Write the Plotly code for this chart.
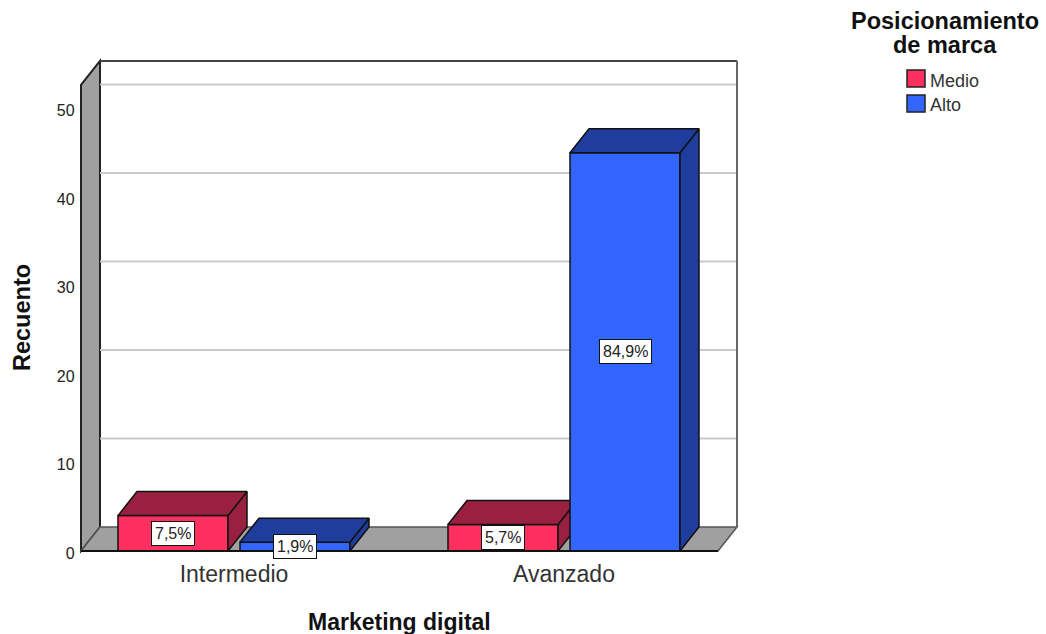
import plotly.graph_objects as go

categories = ["Intermedio", "Avanzado"]
medio_counts = [4, 3]
alto_counts = [1, 45]
y_ticks = [0, 10, 20, 30, 40, 50]
series_names = ["Medio", "Alto"]

FONT = "Liberation Sans"
MEDIO_FRONT, MEDIO_DARK = "#FF3060", "#9A2040"
ALTO_FRONT, ALTO_DARK = "#3366FF", "#1F3D9C"
WALL = "#A0A0A0"
EDGE = "#111111"

# Pseudo-3D geometry, in axis units
BAR_W = 1 / 3
GAP = 0.0364
DX = 0.0576
DY = 2.71
X_LEFT, X_RIGHT = -0.4636, 1.4667
Y_TOP = 52.66
PX_PER_UNIT_X = 330
PX_PER_UNIT_Y = 8.85

total = sum(medio_counts) + sum(alto_counts)


def pct(v):
    return f"{100 * v / total:.1f}%".replace(".", ",")


def poly(xs, ys, fill, line=EDGE, width=1.5, xa="x", ya="y"):
    return go.Scatter(
        x=xs + xs[:1], y=ys + ys[:1], mode="lines", fill="toself", fillcolor=fill,
        line=dict(color=line, width=width), hoverinfo="skip", showlegend=False,
        xaxis=xa, yaxis=ya,
    )


def prism_faces(left, value, top_col, xa, ya):
    """Top and side faces of a bar whose front is drawn by go.Bar."""
    right = left + BAR_W
    top = poly([left, right, right + DX, left + DX],
               [value, value, value + DY, value + DY], top_col, xa=xa, ya=ya)
    side = poly([right, right + DX, right + DX, right],
                [0, DY, value + DY, value], top_col, xa=xa, ya=ya)
    return [side, top]


def paper_text(px, py, text, size, color="#111111", **kw):
    """Text placed by pixel position on the page."""
    opts = dict(xanchor="center", yanchor="middle", showarrow=False)
    opts.update(kw)
    return dict(x=px / 1046, y=1 - py / 634, xref="paper", yref="paper", text=text,
                font=dict(family=FONT, size=size, color=color), **opts)


fig = go.Figure()

# Each series gets its own overlaid axis pair so Alto stacks above Medio's depth faces
for name, counts, offset, front, dark, xa, ya in [
    (series_names[0], medio_counts, -BAR_W - GAP / 2, MEDIO_FRONT, MEDIO_DARK, "x", "y"),
    (series_names[1], alto_counts, GAP / 2, ALTO_FRONT, ALTO_DARK, "x2", "y2"),
]:
    fig.add_trace(go.Bar(
        x=list(range(len(categories))), y=counts, name=name, width=BAR_W, offset=offset,
        marker=dict(color=front, line=dict(color=EDGE, width=1.5)),
        showlegend=False, xaxis=xa, yaxis=ya,
    ))
    for i, v in enumerate(counts):
        for face in prism_faces(i + offset, v, dark, xa, ya):
            fig.add_trace(face)

shapes = []
# Side wall and floor of the box
wall_line = dict(color="#222222", width=2)
shapes.append(dict(type="path", layer="below", xref="x", yref="y", fillcolor=WALL, line=wall_line,
                   path=f"M {X_LEFT} 0 L {X_LEFT + DX} {DY} L {X_LEFT + DX} {Y_TOP + DY} "
                        f"L {X_LEFT} {Y_TOP} Z"))
shapes.append(dict(type="path", layer="below", xref="x", yref="y", fillcolor=WALL,
                   line=dict(color="#555555", width=1.5),
                   path=f"M {X_LEFT} 0 L {X_LEFT + DX} {DY} L {X_RIGHT + DX} {DY} "
                        f"L {X_RIGHT} 0 Z"))
# Gridlines on the back wall
for t in y_ticks[1:]:
    shapes.append(dict(type="line", layer="below", xref="x", yref="y",
                       x0=X_LEFT + DX, x1=X_RIGHT + DX, y0=t + DY, y1=t + DY,
                       line=dict(color="#C9C9C9", width=2)))
# Back wall outline
shapes.append(dict(type="line", layer="below", xref="x", yref="y",
                   x0=X_LEFT + DX, x1=X_RIGHT + DX, y0=Y_TOP + DY, y1=Y_TOP + DY,
                   line=dict(color="#444444", width=2)))
shapes.append(dict(type="line", layer="below", xref="x", yref="y",
                   x0=X_RIGHT + DX, x1=X_RIGHT + DX, y0=DY, y1=Y_TOP + DY,
                   line=dict(color="#666666", width=2)))
# Front floor edge
shapes.append(dict(type="line", xref="x", yref="y", x0=X_LEFT, x1=X_RIGHT, y0=0, y1=0,
                   line=dict(color="#111111", width=2), layer="above"))

annotations = []
# Percentage labels at mid-height of each front face
for counts, centre in [(medio_counts, -(BAR_W + GAP) / 2), (alto_counts, (BAR_W + GAP) / 2)]:
    for i, v in enumerate(counts):
        annotations.append(dict(
            x=i + centre, y=v / 2, xref="x", yref="y", text=pct(v), showarrow=False,
            xanchor="center", yanchor="middle",
            font=dict(family=FONT, size=16, color="#222222"), bgcolor="#FFFFFF",
            bordercolor="#111111", borderwidth=1, borderpad=3,
        ))

# Axis titles
annotations.append(paper_text(399, 622, "<b>Marketing digital</b>", 23))
annotations.append(paper_text(22, 318, "<b>Recuento</b>", 23.5, textangle=-90))

# Legend block
annotations.append(paper_text(945, 21, "<b>Posicionamiento</b>", 23.5))
annotations.append(paper_text(945, 45, "<b>de marca</b>", 23.5))
for k, (name, col) in enumerate(zip(series_names, [MEDIO_FRONT, ALTO_FRONT])):
    y0 = 70 + 25 * k
    shapes.append(dict(type="rect", xref="paper", yref="paper",
                       x0=907 / 1046, x1=925 / 1046, y0=1 - y0 / 634, y1=1 - (y0 + 17) / 634,
                       fillcolor=col, line=dict(color="#222222", width=1.5)))
    annotations.append(paper_text(928, y0 + 11.5 - k, name, 18, color="#333333", xanchor="left"))

x_range = [-0.48, 1.54]
y_range = [-1, 56]
dom_x = [(234 + PX_PER_UNIT_X * x_range[0]) / 1046, (234 + PX_PER_UNIT_X * x_range[1]) / 1046]
dom_y = [1 - (551 - PX_PER_UNIT_Y * y_range[0]) / 634, 1 - (551 - PX_PER_UNIT_Y * y_range[1]) / 634]

fig.update_layout(
    width=1046, height=634, margin=dict(l=0, r=0, t=0, b=0),
    paper_bgcolor="#FFFFFF", plot_bgcolor="#FFFFFF", barmode="overlay", showlegend=False,
    shapes=shapes, annotations=annotations,
    xaxis=dict(domain=dom_x, range=x_range, tickvals=list(range(len(categories))), ticktext=categories,
               showgrid=False, zeroline=False, showline=False, ticks="", automargin=False,
               ticklabelstandoff=-2,
               tickfont=dict(family=FONT, size=23, color="#333333")),
    yaxis=dict(domain=dom_y, range=y_range, tickvals=y_ticks, showgrid=False, zeroline=False,
               showline=False, ticks="", ticklabelstandoff=0, ticklabelshift=2, automargin=False,
               tickfont=dict(family=FONT, size=16, color="#222222")),
    xaxis2=dict(overlaying="x", range=x_range, visible=False),
    yaxis2=dict(overlaying="y", range=y_range, visible=False),
)

fig.write_html("out.html", config=dict(displayModeBar=False))
